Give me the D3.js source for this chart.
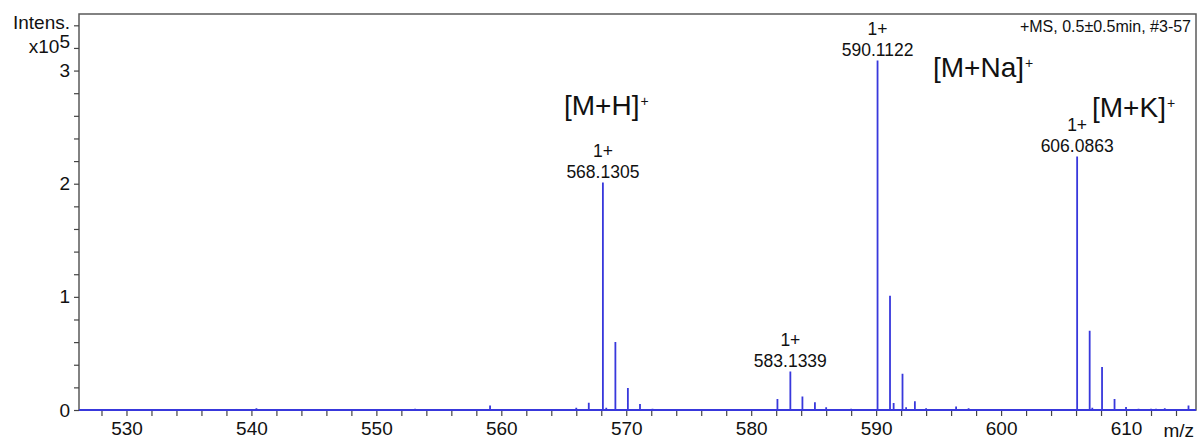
<!DOCTYPE html>
<head>
  <script src="https://d3js.org/d3.v7.min.js"></script>
</head>
<style>
  body { margin: 0; background: #fff; }
  text { font-family: "Liberation Sans", Arial, sans-serif; fill: #111; }
</style>
<body>
  <svg id="svg_ms"></svg>
</body>
<script>
  var w = 1201;
  var h = 441;
  var margin = {top: 14, right: 5, bottom: 31, left: 79};

  // peak list (m/z, intensity in 1e5 counts)
  var peakMz = [533.1, 540.4, 541.3, 553.1, 556.9, 559.1, 560.0, 566.0, 567.0, 568.1305,
                568.4, 569.13, 570.13, 571.1, 572.1, 582.1, 583.1339, 584.1, 585.1, 586.0,
                588.0, 590.1122, 591.11, 591.4, 592.11, 592.4, 593.1, 594.0, 595.1, 596.4,
                597.4, 600.4, 603.9, 606.0863, 607.09, 607.3, 608.08, 609.08, 610.0, 611.0,
                612.0, 612.4, 613.1, 615.0];
  var peakInt = [0.008, 0.015, 0.006, 0.01, 0.006, 0.04, 0.008, 0.02, 0.065, 2.01,
                 0.02, 0.60, 0.195, 0.053, 0.01, 0.097, 0.34, 0.12, 0.068, 0.024,
                 0.01, 3.09, 1.01, 0.062, 0.32, 0.024, 0.077, 0.015, 0.008, 0.032,
                 0.015, 0.006, 0.006, 2.24, 0.70, 0.02, 0.38, 0.097, 0.027, 0.01,
                 0.01, 0.01, 0.015, 0.04];

  // labelled peaks
  var labelMz = [568.1305, 583.1339, 590.1122, 606.0863];
  var labelInt = [2.01, 0.34, 3.09, 2.24];
  var labelCharge = ["1+", "1+", "1+", "1+"];

  // axis ticks
  var xTicks = d3.range(528, 615, 2);
  var xLabels = [530, 540, 550, 560, 570, 580, 590, 600, 610];
  var yTicks = d3.range(0, 3.5, 0.2);
  var yLabels = [0, 1, 2, 3];

  // ion annotations
  var ionNames = ["[M+H]", "[M+Na]", "[M+K]"];
  var ionPos = [[564, 115], [933, 77], [1092, 117]];

  var x = d3.scaleLinear().domain([526.2, 615.6]).range([margin.left, w - margin.right]);
  var y = d3.scaleLinear().domain([0, 3.5]).range([h - margin.bottom, margin.top]);

  var svg = d3.select("svg#svg_ms")
      .attr("width", w)
      .attr("height", h);

  // frame
  svg.append("rect")
      .attr("x", x.range()[0])
      .attr("y", y.range()[1])
      .attr("width", x.range()[1] - x.range()[0])
      .attr("height", y.range()[0] - y.range()[1])
      .style("fill", "none")
      .style("stroke", "#5a5a5a")
      .style("stroke-width", 1.5);

  var xAxis = svg.append("g")
      .attr("transform", "translate(0," + y(0) + ")")
      .call(d3.axisBottom(x)
        .tickValues(xTicks)
        .tickSize(6)
        .tickSizeOuter(0)
        .tickPadding(6)
        .tickFormat(function(d){ return xLabels.indexOf(d) >= 0 ? d : ""; }));
  xAxis.select(".domain").remove();
  xAxis.selectAll("line").style("stroke", "#444").style("stroke-width", 1.2);
  xAxis.selectAll("text").style("font-size", "19px").style("fill", "#111")
      .style("font-family", "Liberation Sans, Arial, sans-serif");

  var yAxis = svg.append("g")
      .attr("transform", "translate(" + x.range()[0] + ",0)")
      .call(d3.axisLeft(y)
        .tickValues(yTicks)
        .tickSize(5)
        .tickSizeOuter(0)
        .tickPadding(4)
        .tickFormat(function(d){ return yLabels.indexOf(Math.round(d*10)/10) >= 0 ? Math.round(d) : ""; }));
  yAxis.select(".domain").remove();
  yAxis.selectAll("line").style("stroke", "#444").style("stroke-width", 1.2);
  yAxis.selectAll("text").style("font-size", "19px").style("fill", "#111")
      .style("font-family", "Liberation Sans, Arial, sans-serif");

  // unit labels at the top ticks
  svg.append("text")
      .attr("x", x.range()[0] - 9)
      .attr("y", y(3.4) + 4)
      .attr("text-anchor", "end")
      .style("font-size", "19px")
      .text("Intens.");
  var unit = svg.append("text")
      .attr("x", x.range()[0] - 9)
      .attr("y", y(3.2) + 5)
      .attr("text-anchor", "end")
      .style("font-size", "19px");
  unit.append("tspan").text("x10");
  unit.append("tspan").attr("dy", -5).text("5");

  svg.append("text")
      .attr("x", w - 10)
      .attr("y", 32)
      .attr("text-anchor", "end")
      .style("font-size", "16px")
      .text("+MS, 0.5\u00b10.5min, #3-57");

  svg.append("text")
      .attr("x", w - 7)
      .attr("y", 437)
      .attr("text-anchor", "end")
      .style("font-size", "19px")
      .text("m/z");

  // spectrum as a stick path along the baseline
  var pts = [[x.domain()[0], 0]];
  peakMz.forEach(function(m, i){
    pts.push([m, 0]); pts.push([m, peakInt[i]]); pts.push([m, 0]);
  });
  pts.push([x.domain()[1], 0]);
  svg.append("path")
      .attr("d", d3.line().x(function(d){ return x(d[0]); }).y(function(d){ return y(d[1]); })(pts))
      .style("fill", "none")
      .style("stroke", "#3838dc")
      .style("stroke-width", 1.8);

  // peak labels
  labelMz.forEach(function(m, i){
    var t = svg.append("text")
        .attr("text-anchor", "middle")
        .style("font-size", "17.5px");
    t.append("tspan").attr("x", x(m)).attr("y", y(labelInt[i]) - 25.5).text(labelCharge[i]);
    t.append("tspan").attr("x", x(m)).attr("y", y(labelInt[i]) - 4.5).text(m.toFixed(4));
  });

  // ion annotations
  ionNames.forEach(function(n, i){
    var t = svg.append("text")
        .attr("x", ionPos[i][0])
        .attr("y", ionPos[i][1])
        .style("font-size", "28px");
    t.append("tspan").text(n);
    t.append("tspan").attr("dx", 1).attr("dy", -9).style("font-size", "14px").text("+");
  });
</script>
